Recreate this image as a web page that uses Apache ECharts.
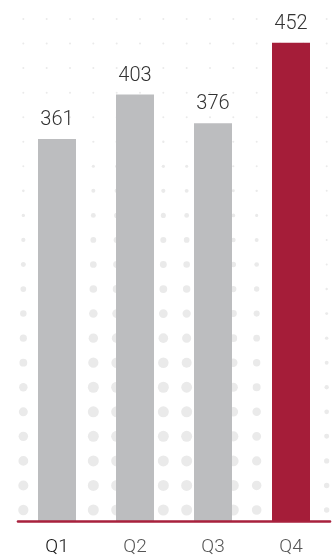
<!DOCTYPE html>
<html>
<head>
<meta charset="utf-8">
<script src="https://cdn.jsdelivr.net/npm/echarts@6/dist/echarts.min.js"></script>
<style>
html,body{margin:0;padding:0;background:#fff;}
#chart{width:336px;height:560px;}
</style>
</head>
<body>
<div id="chart"></div>
<script>
var categories = ['Q1', 'Q2', 'Q3', 'Q4'];
var values = [361, 403, 376, 452];
var highlightIndex = 3;

var chart = echarts.init(document.getElementById('chart'), null, {renderer: 'canvas'});

// decorative dot background
var dots = [];
var colStep = 336 / 14.4, rowStep = 24.55;
for (var c = 1; c <= 14; c++) {
  for (var r = 0; r <= 20; r++) {
    var x = colStep * c, y = 19 + rowStep * r;
    var dx = (x - 135) / 250, dy = (y - 530) / 400;
    var d = Math.sqrt(dx * dx + dy * dy);
    var t = Math.max(0, Math.min(1, (1 - d) / 0.6));
    var size = 2 + 9 * t;
    dots.push({
      type: 'circle', silent: true, z: -10,
      shape: {cx: x, cy: y, r: size / 2},
      style: {fill: '#eaeaea'}
    });
  }
}

var option = {
  animation: false,
  backgroundColor: '#fff',
  graphic: dots,
  grid: {left: 18, right: 6, top: 13, bottom: 38.5, containLabel: false},
  xAxis: {
    type: 'category',
    data: categories,
    z: 5,
    axisLine: {show: true, lineStyle: {color: '#a8213d', width: 2.6}},
    axisTick: {show: false},
    axisLabel: {
      margin: 16,
      fontFamily: 'Roboto',
      fontWeight: 300,
      fontSize: 19,
      formatter: function (v, i) { return i === 0 ? '{a|' + v + '}' : '{b|' + v + '}'; },
      rich: {
        a: {fontFamily: 'Roboto', fontWeight: 300, fontSize: 19, color: '#111'},
        b: {fontFamily: 'Roboto', fontWeight: 300, fontSize: 19, color: '#555'}
      }
    }
  },
  yAxis: {
    type: 'value', min: 0, max: 480,
    show: false,
    splitLine: {show: false}
  },
  series: [{
    type: 'bar',
    barWidth: 38,
    data: values.map(function (v, i) {
      return {value: v, itemStyle: {color: i === highlightIndex ? '#a51d39' : '#bcbdbf'}};
    }),
    label: {
      show: true,
      position: 'top',
      distance: 9,
      fontFamily: 'Roboto',
      fontWeight: 300,
      fontSize: 20,
      color: '#333'
    }
  }]
};
chart.setOption(option);
</script>
</body>
</html>
